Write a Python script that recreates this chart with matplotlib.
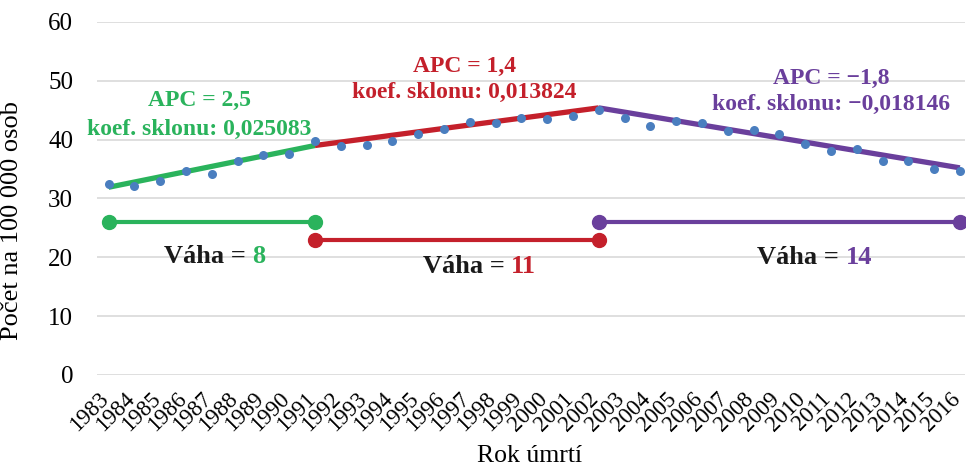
import matplotlib.pyplot as plt
import matplotlib.transforms as mtransforms
import numpy as np

plt.rcParams['font.family'] = ['Liberation Serif', 'DejaVu Serif']

# Úmrtnost na 100 000 osob podle roku
years = np.arange(1983, 2017)
rates = [32.4, 32.1, 33.0, 34.7, 34.1, 36.4, 37.4, 37.6, 39.8, 38.9,
         39.1, 39.8, 41.0, 41.8, 43.0, 42.8, 43.6, 43.5, 44.0, 45.1,
         43.6, 42.4, 43.1, 42.8, 41.4, 41.6, 41.0, 39.3, 38.1, 38.4,
         36.3, 36.3, 35.0, 34.7]

# Joinpoint segmenty: začátek, konec, modelové hodnoty, APC, sklon, váha
seg_years = [(1983, 1991), (1991, 2002), (2002, 2016)]
seg_fit = [(31.9, 39.0), (39.0, 45.4), (45.4, 35.2)]
seg_apc = ['2,5', '1,4', '\u22121,8']
seg_slope = ['0,025083', '0,013824', '\u22120,018146']
seg_weight = [8, 11, 14]
seg_weight_y = [26, 23, 26]
seg_colors = ['#2AB35C', '#C4202B', '#6A3F9C']

fig = plt.figure(figsize=(9.67, 4.68), dpi=100)
ax = fig.add_axes([0.100, 0.199, 0.898, 0.754])

for (x0, x1), (f0, f1), c in zip(seg_years, seg_fit, seg_colors):
    ax.plot([x0, x1], [f0, f1], color=c, lw=3.8, solid_capstyle='butt', zorder=3)

ax.plot(years, rates, 'o', color='#4A7EBF', ms=6.5, mec='none', zorder=4)

for (x0, x1), y, c in zip(seg_years, seg_weight_y, seg_colors):
    ax.plot([x0, x1], [y, y], color=c, lw=3, marker='o', ms=10, zorder=3)

# popisky segmentů (x, y pro APC, y pro sklon)
lab_pos = [(1986.52, 46.6, 41.7), (1996.8, 52.4, 48.0), (2011.0, 50.4, 45.9)]
# pozice konce textu "Váha = "
w_pos = [(1988.58, 20.05), (1998.61, 18.35), (2011.58, 19.9)]
bold = dict(fontsize=17, fontweight='bold', ha='center', va='center')
for i, c in enumerate(seg_colors):
    xa, ya, yb = lab_pos[i]
    ax.text(xa, ya, f'APC = {seg_apc[i]}', color=c, **bold)
    ax.text(xa, yb, f'koef. sklonu: {seg_slope[i]}', color=c, **bold)
    wx, wy = w_pos[i]
    t = ax.text(wx, wy, 'Váha = ', color='#1a1a1a', ha='right', va='center',
                fontsize=19, fontweight='bold')
    ax.annotate(str(seg_weight[i]), xy=(1, 0.5), xycoords=t, color=c,
                ha='left', va='center', fontsize=19, fontweight='bold')

ax.set_ylim(0, 60)
ax.set_yticks(range(0, 61, 10))
ax.set_xlim(1982.54, 2016.2)
ax.set_xticks(years)
ax.set_xticklabels([])

# šikmé popisky roků pod osou, mírně posunuté doleva
lab_tr = ax.get_xaxis_transform() + mtransforms.ScaledTranslation(
    -3 / 100, -21 / 100, fig.dpi_scale_trans)
for y in years:
    ax.text(y, 0, str(y), transform=lab_tr, rotation=45, ha='right',
            va='center', rotation_mode='anchor', fontsize=16.5)

ax.tick_params(axis='y', labelsize=18, length=0, pad=17)
ax.tick_params(axis='x', length=0)
ax.grid(axis='y', color='#D9D9D9', lw=1.2)
ax.set_axisbelow(True)
for s in ax.spines.values():
    s.set_visible(False)

ax.set_ylabel('Počet na 100 000 osob', fontsize=19)
ax.yaxis.set_label_coords(-0.0853, 0.4386)
fig.text(0.5475, 0.012, 'Rok úmrtí', fontsize=18.5, ha='center', va='baseline')

plt.savefig('out.png', dpi=100)
